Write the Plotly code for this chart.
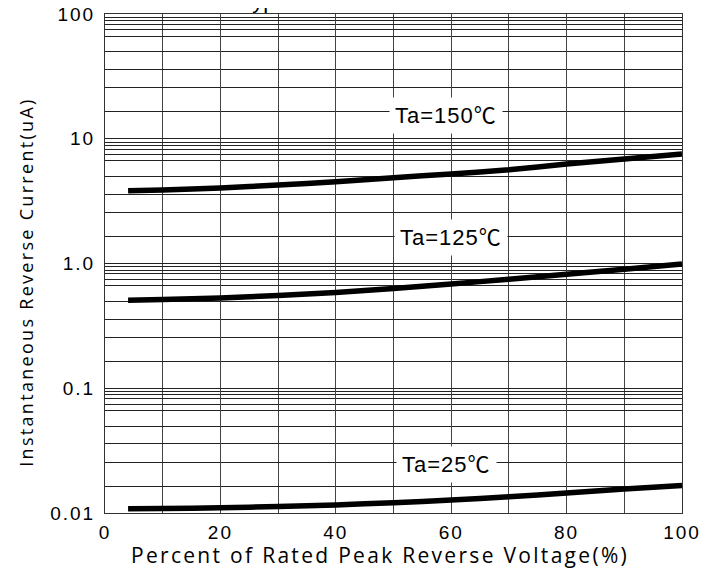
import math
import plotly.graph_objects as go

# ---- data ----
voltage_pct = [4, 10, 20, 30, 40, 50, 60, 70, 80, 90, 100]
ir_150C = [3.83, 3.88, 4.03, 4.26, 4.52, 4.87, 5.22, 5.64, 6.27, 6.87, 7.54]
ir_125C = [0.508, 0.514, 0.53, 0.554, 0.585, 0.63, 0.685, 0.748, 0.82, 0.90, 0.99]
ir_25C = [0.01083, 0.01085, 0.0110, 0.0113, 0.0116, 0.0121, 0.0127, 0.0135, 0.01446, 0.01557, 0.01665]

series_names = ["Ta=150℃", "Ta=125℃", "Ta=25℃"]
label_x = [59.1, 60, 59.2]
label_y = [15.3, 1.63, 0.0244]

x_tick_vals = [0, 20, 40, 60, 80, 100]
x_tick_text = ["0", "20", "40", "60", "80", "100"]
y_tick_vals = [0.01, 0.1, 1, 10, 100]
y_tick_text = ["0.01", "0.1", "1.0", "10", "100"]
# minor grid positions within each decade (multiples of the decade)
grid_mult = [0.94, 0.887, 0.825, 0.747, 0.666, 0.498, 0.358, 0.256, 0.164]
decades = [0.01, 0.1, 1, 10]

y_minor = [m * d * 10 for d in decades for m in grid_mult]


def spaced(t, ls):
    return f'<span style="letter-spacing:{ls}px">{t}</span>'


fig = go.Figure()
for ys in (ir_150C, ir_125C, ir_25C):
    fig.add_trace(go.Scatter(
        x=voltage_pct, y=ys, mode="lines",
        line=dict(color="black", width=5.5, shape="spline", smoothing=0.6),
        showlegend=False, hoverinfo="skip"))

tick_font = dict(family="Liberation Sans, Arial, sans-serif", size=19, color="black")

fig.update_layout(
    width=723, height=569,
    margin=dict(l=97, r=49, t=6, b=64),
    paper_bgcolor="white", plot_bgcolor="white",
    xaxis=dict(
        range=[0, 100], tickmode="array", tickvals=x_tick_vals,
        ticktext=[spaced(t, 2) for t in x_tick_text],
        showgrid=True, gridcolor="#444", gridwidth=1,
        minor=dict(dtick=10, showgrid=True, gridcolor="#444", gridwidth=1),
        showline=True, linecolor="#333", linewidth=1, mirror=True,
        ticks="", tickfont=tick_font, ticklabelstandoff=2, zeroline=False,
        automargin=False, ticklabeloverflow="allow",
    ),
    yaxis=dict(
        type="log", range=[-2, 2], tickmode="array", tickvals=y_tick_vals,
        ticktext=[spaced(t, 2) for t in y_tick_text],
        showgrid=True, gridcolor="#222", gridwidth=1,
        minor=dict(tickmode="array", tickvals=y_minor, showgrid=True,
                   gridcolor="#222", gridwidth=1, ticks=""),
        showline=True, linecolor="#333", linewidth=1, mirror=True,
        ticks="", tickfont=tick_font, ticklabelstandoff=5, zeroline=False,
        automargin=False, ticklabeloverflow="allow",
    ),
)

for name, lx, ly in zip(series_names, label_x, label_y):
    fig.add_annotation(
        x=lx, y=math.log10(ly), xref="x", yref="y", showarrow=False,
        text=spaced(name, 1),
        font=dict(family="Liberation Sans, Noto Sans CJK SC, sans-serif", size=22, color="black"),
        bgcolor="white", borderpad=5)

# axis titles
fig.add_annotation(
    x=0.4766, y=-0.0842, xref="paper", yref="paper", showarrow=False,
    xanchor="center", yanchor="middle",
    text=spaced("Percent of Rated Peak Reverse Voltage(%)", 2.3),
    font=dict(family="Open Sans, sans-serif", size=21, color="black"))
fig.add_annotation(
    x=-0.1369, y=0.4615, xref="paper", yref="paper", showarrow=False,
    xanchor="center", yanchor="middle", textangle=-90,
    text=spaced("Instantaneous Reverse Current(uA)", 2.3),
    font=dict(family="Open Sans, sans-serif", size=18, color="black"))
# chart title, almost entirely above the visible page
fig.add_annotation(
    x=0.5, y=1.0008, xref="paper", yref="paper", showarrow=False,
    xanchor="center", yanchor="bottom", borderpad=0,
    text="Typical Reverse Characteristics",
    font=dict(family="Liberation Sans, Arial, sans-serif", size=22, color="black"))

fig.write_html("out.html")
